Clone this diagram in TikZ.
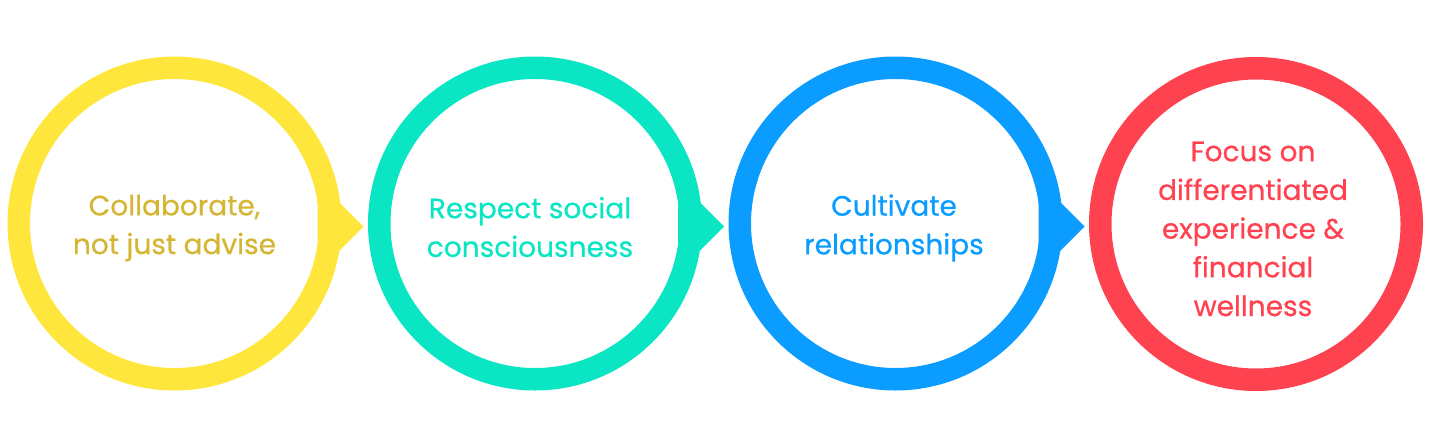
\documentclass[tikz,border=0pt]{standalone}
\usepackage{fontspec}
\setmainfont{Poppins}
\newfontfamily\lblfont{Poppins}[UprightFeatures={FakeBold=0.6}]
\definecolor{ycol}{HTML}{FFE63C}
\definecolor{ytxt}{HTML}{D4B634}
\definecolor{tcol}{HTML}{0AE6C3}
\definecolor{bcol}{HTML}{0A9CFF}
\definecolor{rcol}{HTML}{FF4250}
\tikzset{
  ring/.style={circle, minimum size=311.5pt, inner sep=0pt, line width=22.5pt},
  lbl/.style={align=center, inner sep=0pt, font=\lblfont\fontsize{28}{38.7}\selectfont},
}
\begin{document}
\begin{tikzpicture}[x=1pt,y=-1pt]
\useasboundingbox (0,0) rectangle (1431,437);
\node[ring, draw=ycol] (c1) at (174.5,223.5) {};
\node[ring, draw=tcol] (c2) at (535,223.5) {};
\node[ring, draw=bcol] (c3) at (895.5,223.5) {};
\node[ring, draw=rcol] (c4) at (1256,224) {};
\fill[ycol] ([shift={(189,3)}]c1.center) -- ++(-46,-46) -- ++(0,92) -- cycle;
\fill[tcol] ([shift={(189,3)}]c2.center) -- ++(-46,-46) -- ++(0,92) -- cycle;
\fill[bcol] ([shift={(189,3)}]c3.center) -- ++(-46,-46) -- ++(0,92) -- cycle;
\node[lbl, text=ytxt] (t1) at (174.5,228) {Collaborate,\\not just advise};
\node[lbl, text=tcol] (t2) at (530,227) {Respect social\\consciousness};
\node[lbl, text=bcol] (t3) at (894,228) {Cultivate\\relationships};
\node[lbl, text=rcol] (t4) at (1253,229) {Focus on\\differentiated\\experience \&\\financial\\wellness};
\end{tikzpicture}
\end{document}
